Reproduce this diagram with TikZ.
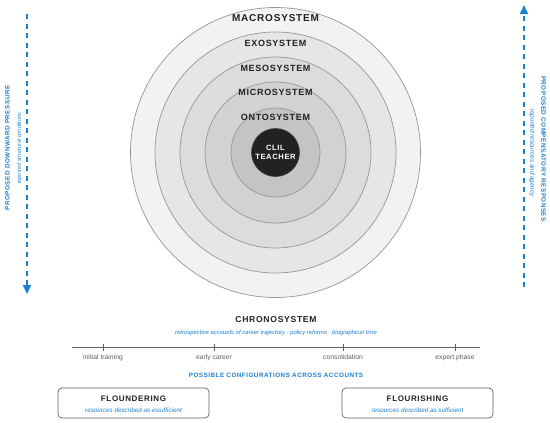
\documentclass[tikz,border=0pt]{standalone}
\usepackage{fontspec}
\setmainfont{Liberation Sans}
\newfontfamily\spaced[LetterSpace=8,BoldFont={Liberation Sans Bold}]{Liberation Sans}
\usetikzlibrary{arrows.meta}
\definecolor{accent}{RGB}{28,128,210}
\definecolor{ringline}{RGB}{150,150,150}
\definecolor{darktext}{RGB}{34,34,34}
\definecolor{tlgray}{RGB}{95,95,95}
\tikzset{
  ring/.style={circle,draw=ringline,line width=0.7pt,inner sep=0pt},
  ringlabel/.style={font=\spaced\bfseries\fontsize{9}{10}\selectfont,text=darktext,inner sep=0pt},
  sidetitle/.style={font=\spaced\bfseries\fontsize{6.3}{7}\selectfont,text=accent,inner sep=0pt},
  sidesub/.style={font=\itshape\fontsize{5.5}{6}\selectfont,text=accent,inner sep=0pt},
  flow/.style={draw=accent,line width=1.6pt,dash pattern=on 5pt off 4.5pt,-{Triangle[width=8pt,length=9pt]}},
  ticklabel/.style={font=\fontsize{6.8}{7}\selectfont,text=tlgray,inner sep=0pt},
  configbox/.style={draw=tlgray,line width=0.7pt,rounded corners=4pt,minimum width=151pt,minimum height=30pt,inner sep=0pt},
  boxtitle/.style={font=\spaced\bfseries\fontsize{8}{9}\selectfont,text=darktext,inner sep=0pt},
  boxsub/.style={font=\itshape\fontsize{6.3}{7}\selectfont,text=accent,inner sep=0pt}
}
\begin{document}
\begin{tikzpicture}[x=1pt,y=-1pt]
\useasboundingbox[fill=white] (0,0) rectangle (550,423);
% rings
\node[ring,fill={rgb,255:red,242;green,242;blue,242},minimum size=290pt] (macro) at (275.5,152.5) {};
\node[ring,fill={rgb,255:red,230;green,230;blue,230},minimum size=241pt] (exo) at (275.5,152.5) {};
\node[ring,fill={rgb,255:red,220;green,220;blue,220},minimum size=191pt] (meso) at (275.5,152.5) {};
\node[ring,fill={rgb,255:red,210;green,210;blue,210},minimum size=141pt] (micro) at (275.5,152.5) {};
\node[ring,fill={rgb,255:red,196;green,196;blue,196},minimum size=89pt] (onto) at (275.5,152.5) {};
\node[circle,fill={rgb,255:red,34;green,34;blue,34},draw={rgb,255:red,60;green,60;blue,60},line width=0.6pt,minimum size=48pt,inner sep=0pt,
  align=center,text=white,font=\spaced\bfseries\fontsize{7.6}{9}\selectfont] (teacher) at (275.5,152.5) {CLIL\\TEACHER};
\node[ringlabel,font=\spaced\bfseries\fontsize{10}{11}\selectfont] (lmacro) at (275.5,18) {MACROSYSTEM};
\node[ringlabel] (lexo) at (275.5,43) {EXOSYSTEM};
\node[ringlabel] (lmeso) at (275.5,68) {MESOSYSTEM};
\node[ringlabel] (lmicro) at (275.5,92.5) {MICROSYSTEM};
\node[ringlabel] (lonto) at (275.5,117.5) {ONTOSYSTEM};
% left side
\coordinate (ltop) at (27,14);
\coordinate (lbot) at (27,294);
\draw[flow] (ltop) -- (lbot);
\node[sidetitle,rotate=90] (ltitle) at (7.5,148) {PROPOSED DOWNWARD PRESSURE};
\node[sidesub,rotate=90] (lsub) at (19.5,148.5) {reported structural conditions};
% right side
\coordinate (rbot) at (524,287);
\coordinate (rtop) at (524,5);
\draw[flow] (rbot) -- (rtop);
\node[sidetitle,rotate=-90] (rtitle) at (543.5,149) {PROPOSED COMPENSATORY RESPONSES};
\node[sidesub,font=\itshape\fontsize{6.3}{7}\selectfont,rotate=-90] (rsub) at (532,153) {reported resources and agency};
% chronosystem
\node[font=\spaced\bfseries\fontsize{8.6}{10}\selectfont,text=darktext,inner sep=0pt] (chrono) at (276,319.5) {CHRONOSYSTEM};
\node[font=\itshape\fontsize{5.9}{7}\selectfont,text=accent,inner sep=0pt] (chronosub) at (276,332.5) {retrospective accounts of career trajectory · policy reforms · biographical time};
\coordinate (tl0) at (72,347);
\coordinate (tl1) at (480,347);
\draw[tlgray,line width=0.9pt] (tl0) -- (tl1);
\foreach \x/\nm/\lab in {103/t1/initial training,214/t2/early career,343/t3/consolidation,455/t4/expert phase}{
  \coordinate (\nm) at (\x,347);
  \draw[tlgray,line width=0.9pt] ([yshift=-3.5pt]\nm) -- ([yshift=3.5pt]\nm);
  \node[ticklabel] (\nm lab) at (\x,357.5) {\lab};
}
\node[font=\spaced\bfseries\fontsize{6.3}{7}\selectfont,text=accent,inner sep=0pt] (configs) at (276,375) {POSSIBLE CONFIGURATIONS ACROSS ACCOUNTS};
% boxes
\node[configbox] (flound) at (133.5,403) {};
\node[boxtitle] (floundt) at (133.5,399) {FLOUNDERING};
\node[boxsub] (flounds) at (133.5,410.5) {resources described as insufficient};
\node[configbox] (flour) at (417.5,403) {};
\node[boxtitle] (flourt) at (417.5,399) {FLOURISHING};
\node[boxsub] (flours) at (417.5,410.5) {resources described as sufficient};
\end{tikzpicture}
\end{document}
